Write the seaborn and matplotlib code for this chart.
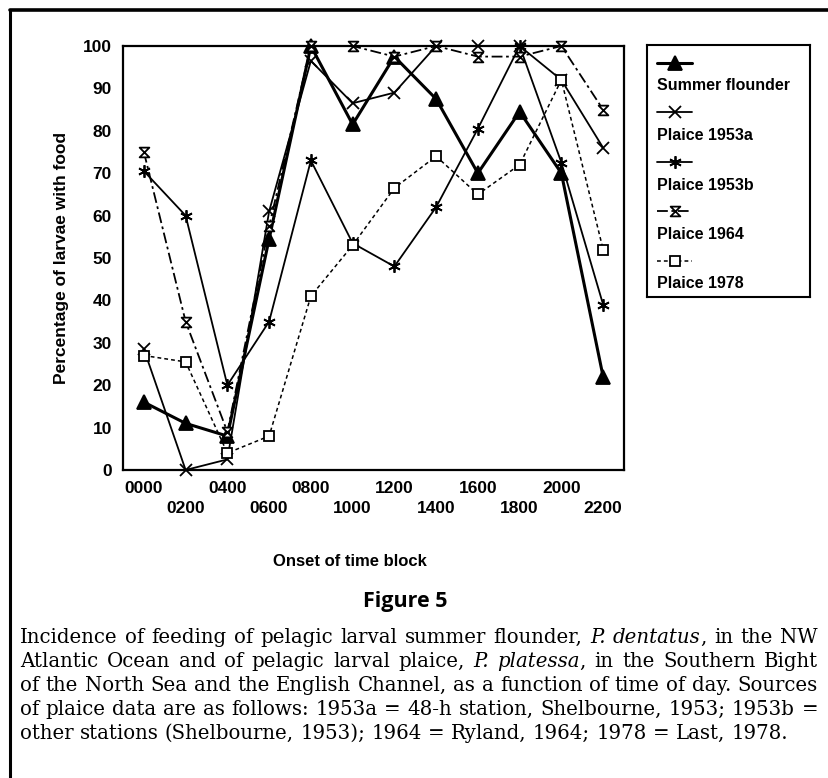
import numpy as np
import pandas as pd
import matplotlib
matplotlib.use('Agg')
import matplotlib.pyplot as plt
from matplotlib.path import Path
from matplotlib.lines import Line2D
from matplotlib.transforms import IdentityTransform
import seaborn as sns

sns.set_style('white')
plt.rcParams['font.family'] = ['Liberation Sans', 'DejaVu Sans']
plt.rcParams['text.color'] = 'black'
plt.rcParams['axes.labelcolor'] = 'black'
plt.rcParams['xtick.color'] = 'black'
plt.rcParams['ytick.color'] = 'black'

# values (percentage of larvae with food)
hours = ['0000', '0200', '0400', '0600', '0800', '1000',
         '1200', '1400', '1600', '1800', '2000', '2200']
summer_flounder = [16, 11, 8, 54.5, 100, 81.5, 97.5, 87.5, 70, 84.5, 70, 22]
plaice_1953a = [28.5, 0, 2.5, 61, 96.5, 86.5, 89, 100, 100, 100, 92, 76]
plaice_1953b = [70.5, 60, 20, 35, 73, 53.5, 48, 62, 80.5, 100, 72.5, 39]
plaice_1964 = [75, 35, 9, 57.5, 100, 100, 97.5, 100, 97.5, 97.5, 100, 85]
plaice_1978 = [27, 25.5, 4, 8, 41, 53, 66.5, 74, 65, 72, 92, 52]
series_names = ['Summer flounder', 'Plaice 1953a', 'Plaice 1953b', 'Plaice 1964', 'Plaice 1978']

caption = [
    "Incidence of feeding of pelagic larval summer flounder, *P.* *dentatus*, in the NW",
    "Atlantic Ocean and of pelagic larval plaice, *P.* *platessa*, in the Southern Bight",
    "of the North Sea and the English Channel, as a function of time of day. Sources",
    "of plaice data are as follows: 1953a = 48-h station, Shelbourne, 1953; 1953b =",
    "other stations (Shelbourne, 1953); 1964 = Ryland, 1964; 1978 = Last, 1978.",
]

df = pd.DataFrame({'pos': np.arange(len(hours)), 'hour': hours,
                   'Summer flounder': summer_flounder,
                   'Plaice 1953a': plaice_1953a,
                   'Plaice 1953b': plaice_1953b,
                   'Plaice 1964': plaice_1964,
                   'Plaice 1978': plaice_1978})

hourglass = Path([(-1, 1), (1, 1), (-1, -1), (1, -1), (-1, 1)],
                 [Path.MOVETO, Path.LINETO, Path.LINETO, Path.LINETO, Path.CLOSEPOLY])

# name -> marker, linestyle, line width, marker size, face colour
styles = {
    'Summer flounder': ('^', '-', 2.2, 10, 'black'),
    'Plaice 1953a': ('x', '-', 1.3, 8, 'none'),
    'Plaice 1953b': ((6, 2, 0), '-', 1.3, 9, 'none'),
    'Plaice 1964': (hourglass, (0, (6, 2, 1.5, 2)), 1.3, 7, 'white'),
    'Plaice 1978': ('s', (0, (2.5, 2)), 1.1, 7.5, 'white'),
}

W, H = 829, 778
fig = plt.figure(figsize=(W / 100, H / 100), dpi=100)
ax = fig.add_axes([123 / W, 1 - 470 / H, 501 / W, 424 / H])

for name in series_names:
    mk, ls, lw, ms, fc = styles[name]
    sns.lineplot(data=df, x='pos', y=name, ax=ax, color='black', marker=mk,
                 linestyle=ls, linewidth=lw, markersize=ms, markerfacecolor=fc,
                 markeredgecolor='black', markeredgewidth=1.3, clip_on=False,
                 errorbar=None, zorder=3)

ax.set_xlim(-0.5, 11.5)
ax.set_ylim(0, 100)
ax.set_yticks(np.arange(0, 101, 10))
ax.set_xticks(df['pos'])
ax.set_xticklabels([h if i % 2 == 0 else '\n' + h for i, h in enumerate(hours)],
                   linespacing=1.4)
ax.tick_params(axis='both', direction='out', length=5, width=1.5, color='black',
               labelsize=12.5, pad=3)
for lab in ax.get_xticklabels() + ax.get_yticklabels():
    lab.set_fontweight('bold')
for sp in ax.spines.values():
    sp.set_linewidth(1.6)
    sp.set_color('black')
ax.set_xlabel('')
ax.set_ylabel('Percentage of larvae with food', fontsize=12.5, fontweight='bold')
ax.yaxis.set_label_coords(-0.108, 0.5)

fig.text(350 / W, 1 - 561 / H, 'Onset of time block', fontsize=12, fontweight='bold',
         ha='center', va='center')

# legend box: sample line above each label
lax = fig.add_axes([647 / W, 1 - 297 / H, 163 / W, 252 / H])
lax.set_xlim(0, 163)
lax.set_ylim(252, 0)
lax.set_xticks([])
lax.set_yticks([])
for sp in lax.spines.values():
    sp.set_linewidth(1.5)
    sp.set_color('black')
for i, name in enumerate(series_names):
    mk, ls, lw, ms, fc = styles[name]
    yh = 18 + i * 49.5
    lax.plot([10, 45], [yh, yh], color='black', linestyle=ls, linewidth=lw)
    lax.plot([27.5], [yh], color='black', marker=mk, markersize=ms, markerfacecolor=fc,
             markeredgecolor='black', markeredgewidth=1.3, linestyle='none')
    lax.text(10, yh + 23, name, fontsize=11.5, fontweight='bold', va='center', ha='left')

# frame lines of the page
fig.add_artist(Line2D([10, 10], [0, H - 10], transform=IdentityTransform(),
                      color='black', linewidth=2.2))
fig.add_artist(Line2D([10, W], [H - 10, H - 10], transform=IdentityTransform(),
                      color='black', linewidth=2.6))

fig.text(405 / W, 1 - 601 / H, 'Figure 5', fontsize=15.5, fontweight='bold',
         family='Open Sans', ha='center', va='center')

# justified caption
fig.canvas.draw()
rend = fig.canvas.get_renderer()
x0, x1 = 20, 818
base0, dy = 643, 24


def make_word(word, size):
    parts = word.split('*')
    arts = []
    for k, p in enumerate(parts):
        if p == '':
            continue
        t = fig.text(0, 0, p, fontsize=size, family='DejaVu Serif',
                     style='italic' if k % 2 == 1 else 'normal',
                     va='baseline', ha='left', transform=IdentityTransform())
        arts.append(t)
    return arts


def space_width(size):
    p1 = fig.text(0, 0, 'a a', fontsize=size, family='DejaVu Serif')
    p2 = fig.text(0, 0, 'aa', fontsize=size, family='DejaVu Serif')
    w = p1.get_window_extent(rend).width - p2.get_window_extent(rend).width
    p1.remove()
    p2.remove()
    return w


def measure(line, size):
    words = [make_word(w, size) for w in line.split(' ')]
    widths = [[a.get_window_extent(rend).width for a in w] for w in words]
    return words, widths


# pick a caption size where the widest full line just fits the column
ref_size = 12
sw = space_width(ref_size)
natural = []
for line in caption[:-1]:
    words, widths = measure(line, ref_size)
    natural.append(sum(sum(w) for w in widths) + sw * (len(words) - 1))
    for w in words:
        for a in w:
            a.remove()
cap_size = ref_size * (x1 - x0) / max(natural) * 0.99
sw = space_width(cap_size)

for i, line in enumerate(caption):
    ybase = H - (base0 + i * dy)
    words, widths = measure(line, cap_size)
    total = sum(sum(w) for w in widths)
    if i < len(caption) - 1:
        gap = (x1 - x0 - total) / (len(words) - 1)
    else:
        gap = sw
    x = x0
    for w, ws in zip(words, widths):
        for a, aw in zip(w, ws):
            a.set_position((x, ybase))
            x += aw
        x += gap

fig.savefig('out.png', dpi=100)
